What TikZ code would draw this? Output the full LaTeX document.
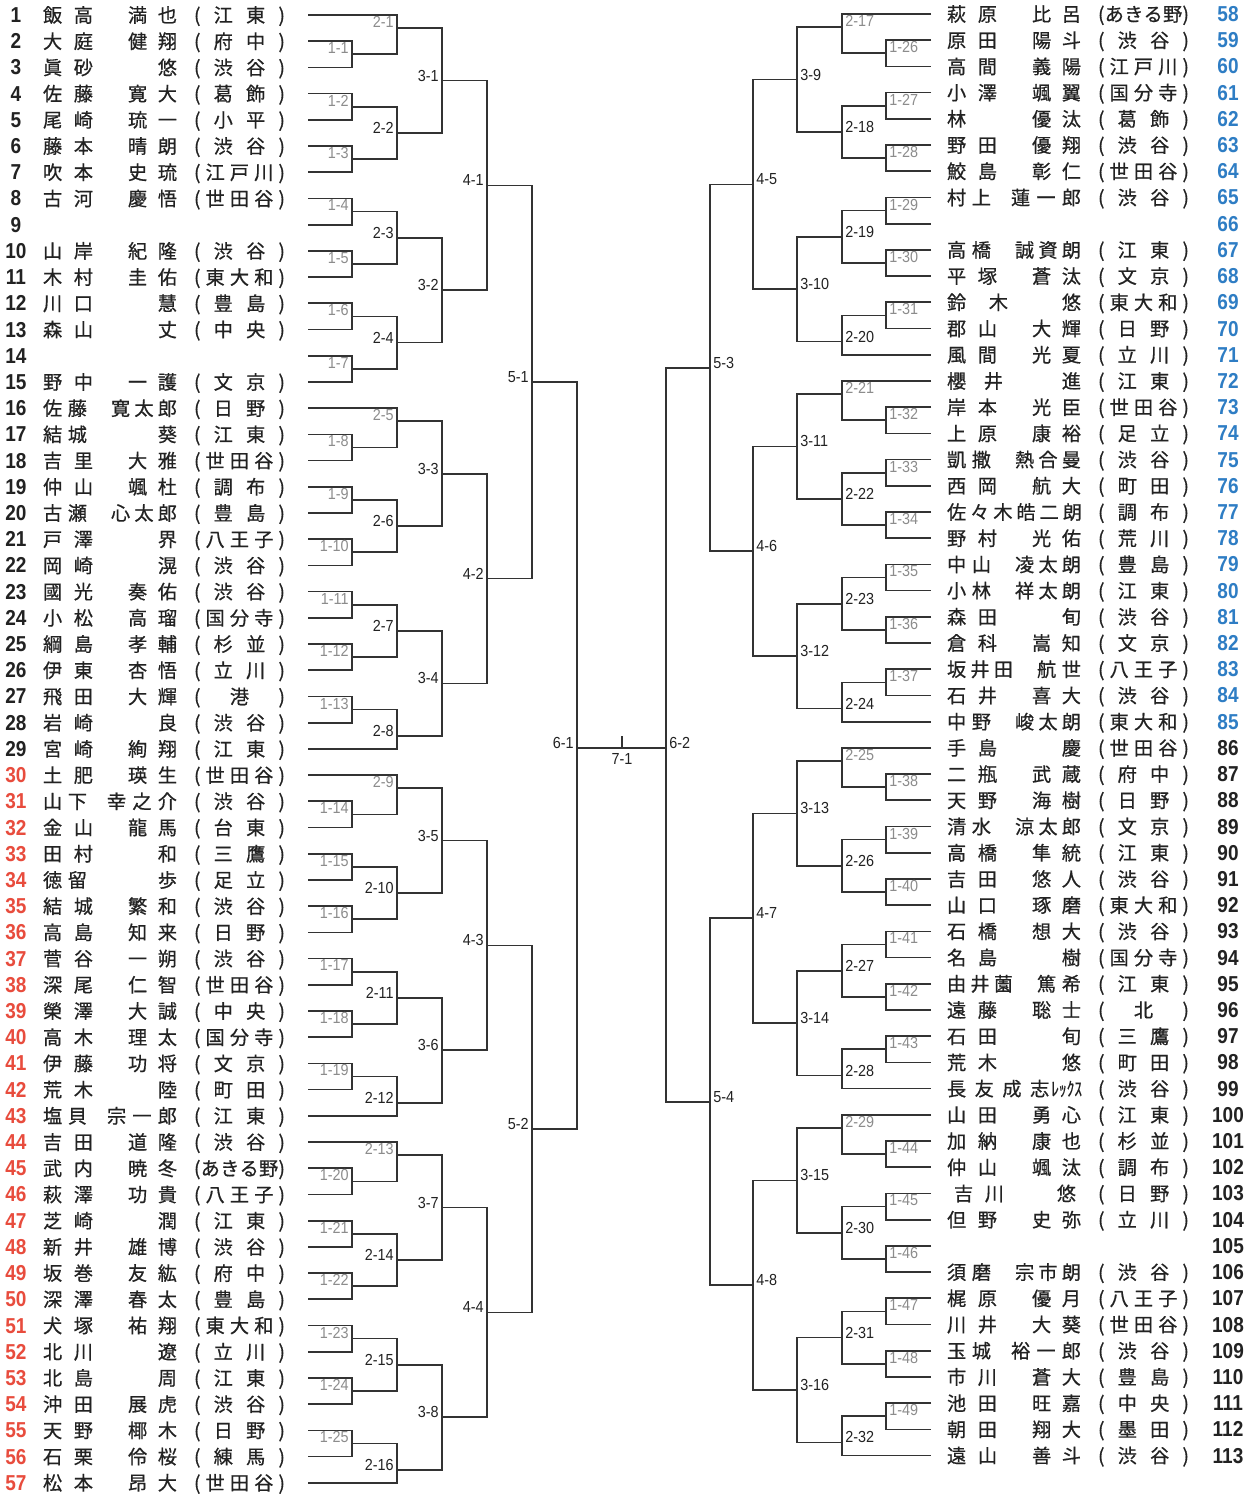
\documentclass[tikz,border=0pt]{standalone}
\usepackage{graphicx}
\usepackage{fontspec}
\setmainfont{Noto Sans CJK JP}[FakeBold=0.6]
\newfontfamily\numfont{Liberation Sans}[FakeStretch=0.88]
\newfontfamily\labfont{Liberation Sans}[FakeStretch=0.9]
\usetikzlibrary{calc}
\definecolor{numred}{HTML}{E84C3D}
\definecolor{numblue}{HTML}{2E7DC4}
\definecolor{ink}{HTML}{222222}
\definecolor{lineC}{HTML}{333333}
\definecolor{labgray}{HTML}{8C8C8C}
\newcommand\yL[1]{15+(#1-1)*26.21}
\newcommand\yK[1]{14+(#1-1)*26.21}
\newcommand\yR[1]{14+(#1-58)*26.21}
\tikzset{
 br/.style={draw=lineC,line width=0.85pt},
 nm/.style={inner sep=0pt,outer sep=0pt,text=ink,font=\fontsize{9.6pt}{10pt}\selectfont},
 numst/.style={inner sep=0pt,anchor=base,font=\numfont\bfseries\fontsize{10.8pt}{11pt}\selectfont},
 glab/.style={inner sep=0pt,text=labgray,font=\labfont\fontsize{8pt}{8pt}\selectfont},
 blab/.style={inner sep=0pt,text=ink,font=\labfont\fontsize{8pt}{8pt}\selectfont},
}
% entries
\newcommand\surL[3]{\node[nm,anchor=base west] (s#1) at (43,{\yL{#1}+7.3}) {\makebox[#2pt][s]{#3}};}
\newcommand\givL[3]{\node[nm,anchor=base east] (g#1) at (177,{\yL{#1}+7.3}) {\makebox[#2pt][s]{#3}};}
\newcommand\areL[2]{\node[nm,anchor=base west] (a#1) at (194,{\yL{#1}+7.3}) {\makebox[45.5pt][s]{(\hfill #2\hfill)}};}
\newcommand\entL[6]{\surL{#1}{#2}{#3}\givL{#1}{#4}{#5}\areL{#1}{#6}}
\newcommand\surR[3]{\node[nm,anchor=base west] (s#1) at (947,{\yR{#1}+7.3}) {\makebox[#2pt][s]{#3}};}
\newcommand\givR[3]{\node[nm,anchor=base east] (g#1) at (1081,{\yR{#1}+7.3}) {\makebox[#2pt][s]{#3}};}
\newcommand\areR[2]{\node[nm,anchor=base west] (a#1) at (1098,{\yR{#1}+7.3}) {\makebox[45.5pt][s]{(\hfill #2\hfill)}};}
\newcommand\entR[6]{\surR{#1}{#2}{#3}\givR{#1}{#4}{#5}\areR{#1}{#6}}
% matches
\newcommand\mLg[5]{\coordinate (m#1) at (#2,{\yL{#3}});\draw[br] (#4) -| (m#1) |- (#5);\node[glab,anchor=north east] (t#1) at ($(#4 -| m#1)+(-3,1)$) {#1};}
\newcommand\mLb[5]{\coordinate (m#1) at (#2,{\yL{#3}});\draw[br] (#4) -| (m#1) |- (#5);\node[blab,anchor=east] (t#1) at ($(m#1)+(-3,-5)$) {#1};}
\newcommand\mRg[5]{\coordinate (m#1) at (#2,{\yK{#3}});\draw[br] (#4) -| (m#1) |- (#5);\node[glab,anchor=north west] (t#1) at ($(#4 -| m#1)+(3,1)$) {#1};}
\newcommand\mRb[5]{\coordinate (m#1) at (#2,{\yK{#3}});\draw[br] (#4) -| (m#1) |- (#5);\node[blab,anchor=west] (t#1) at ($(m#1)+(3,-5)$) {#1};}
\begin{document}
\begin{tikzpicture}[x=0.5pt,y=-0.5pt]
\fill[white] (0,0) rectangle (1255,1497);
\useasboundingbox (0,0) rectangle (1255,1497);
% numbers
\foreach \r in {1,...,29} {\node[numst,text=ink] (n\r) at (16,{\yL{\r}+7.5}) {\r};}
\foreach \r in {30,...,57} {\node[numst,text=numred] (n\r) at (16,{\yL{\r}+7.5}) {\r};}
\foreach \r in {58,...,85} {\node[numst,text=numblue] (n\r) at (1228,{\yR{\r}+7.5}) {\r};}
\foreach \r in {86,...,113} {\node[numst,text=ink] (n\r) at (1228,{\yR{\r}+7.5}) {\r};}
% left entries
\entL{1}{25}{飯\hfill 高}{24.5}{満\hfill 也}{江\hfill 東}
\entL{2}{25}{大\hfill 庭}{24.5}{健\hfill 翔}{府\hfill 中}
\entL{3}{25}{眞\hfill 砂}{9.6}{悠}{渋\hfill 谷}
\entL{4}{25}{佐\hfill 藤}{24.5}{寛\hfill 大}{葛\hfill 飾}
\entL{5}{25}{尾\hfill 崎}{24.5}{琉\hfill 一}{小\hfill 平}
\entL{6}{25}{藤\hfill 本}{24.5}{晴\hfill 朗}{渋\hfill 谷}
\entL{7}{25}{吹\hfill 本}{24.5}{史\hfill 琉}{江\hfill 戸\hfill 川}
\entL{8}{25}{古\hfill 河}{24.5}{慶\hfill 悟}{世\hfill 田\hfill 谷}
\entL{10}{25}{山\hfill 岸}{24.5}{紀\hfill 隆}{渋\hfill 谷}
\entL{11}{25}{木\hfill 村}{24.5}{圭\hfill 佑}{東\hfill 大\hfill 和}
\entL{12}{25}{川\hfill 口}{9.6}{慧}{豊\hfill 島}
\entL{13}{25}{森\hfill 山}{9.6}{丈}{中\hfill 央}
\entL{15}{25}{野\hfill 中}{24.5}{一\hfill 護}{文\hfill 京}
\entL{16}{22}{佐\hfill 藤}{33}{寛\hfill 太\hfill 郎}{日\hfill 野}
\entL{17}{22}{結\hfill 城}{9.6}{葵}{江\hfill 東}
\entL{18}{25}{吉\hfill 里}{24.5}{大\hfill 雅}{世\hfill 田\hfill 谷}
\entL{19}{25}{仲\hfill 山}{24.5}{颯\hfill 杜}{調\hfill 布}
\entL{20}{22}{古\hfill 瀬}{33}{心\hfill 太\hfill 郎}{豊\hfill 島}
\entL{21}{25}{戸\hfill 澤}{9.6}{界}{八\hfill 王\hfill 子}
\entL{22}{25}{岡\hfill 崎}{9.6}{滉}{渋\hfill 谷}
\entL{23}{25}{國\hfill 光}{24.5}{奏\hfill 佑}{渋\hfill 谷}
\entL{24}{25}{小\hfill 松}{24.5}{高\hfill 瑠}{国\hfill 分\hfill 寺}
\entL{25}{25}{綱\hfill 島}{24.5}{孝\hfill 輔}{杉\hfill 並}
\entL{26}{25}{伊\hfill 東}{24.5}{杏\hfill 悟}{立\hfill 川}
\entL{27}{25}{飛\hfill 田}{24.5}{大\hfill 輝}{港}
\entL{28}{25}{岩\hfill 崎}{9.6}{良}{渋\hfill 谷}
\entL{29}{25}{宮\hfill 崎}{24.5}{絢\hfill 翔}{江\hfill 東}
\entL{30}{25}{土\hfill 肥}{24.5}{瑛\hfill 生}{世\hfill 田\hfill 谷}
\entL{31}{22}{山\hfill 下}{35}{幸\hfill 之\hfill 介}{渋\hfill 谷}
\entL{32}{25}{金\hfill 山}{24.5}{龍\hfill 馬}{台\hfill 東}
\entL{33}{25}{田\hfill 村}{9.6}{和}{三\hfill 鷹}
\entL{34}{22}{徳\hfill 留}{9.6}{歩}{足\hfill 立}
\entL{35}{25}{結\hfill 城}{24.5}{繁\hfill 和}{渋\hfill 谷}
\entL{36}{25}{高\hfill 島}{24.5}{知\hfill 来}{日\hfill 野}
\entL{37}{25}{菅\hfill 谷}{24.5}{一\hfill 朔}{渋\hfill 谷}
\entL{38}{25}{深\hfill 尾}{24.5}{仁\hfill 智}{世\hfill 田\hfill 谷}
\entL{39}{25}{榮\hfill 澤}{24.5}{大\hfill 誠}{中\hfill 央}
\entL{40}{25}{高\hfill 木}{24.5}{理\hfill 太}{国\hfill 分\hfill 寺}
\entL{41}{25}{伊\hfill 藤}{24.5}{功\hfill 将}{文\hfill 京}
\entL{42}{25}{荒\hfill 木}{9.6}{陸}{町\hfill 田}
\entL{43}{22}{塩\hfill 貝}{35}{宗\hfill 一\hfill 郎}{江\hfill 東}
\entL{44}{25}{吉\hfill 田}{24.5}{道\hfill 隆}{渋\hfill 谷}
\entL{45}{25}{武\hfill 内}{24.5}{暁\hfill 冬}{あ\hfill き\hfill る\hfill 野}
\entL{46}{25}{萩\hfill 澤}{24.5}{功\hfill 貴}{八\hfill 王\hfill 子}
\entL{47}{25}{芝\hfill 崎}{9.6}{潤}{江\hfill 東}
\entL{48}{25}{新\hfill 井}{24.5}{雄\hfill 博}{渋\hfill 谷}
\entL{49}{25}{坂\hfill 巻}{24.5}{友\hfill 紘}{府\hfill 中}
\entL{50}{25}{深\hfill 澤}{24.5}{春\hfill 太}{豊\hfill 島}
\entL{51}{25}{犬\hfill 塚}{24.5}{祐\hfill 翔}{東\hfill 大\hfill 和}
\entL{52}{25}{北\hfill 川}{9.6}{遼}{立\hfill 川}
\entL{53}{25}{北\hfill 島}{9.6}{周}{江\hfill 東}
\entL{54}{25}{沖\hfill 田}{24.5}{展\hfill 虎}{渋\hfill 谷}
\entL{55}{25}{天\hfill 野}{24.5}{椰\hfill 木}{日\hfill 野}
\entL{56}{25}{石\hfill 栗}{24.5}{伶\hfill 桜}{練\hfill 馬}
\entL{57}{25}{松\hfill 本}{24.5}{昂\hfill 大}{世\hfill 田\hfill 谷}
% right entries
\entR{58}{25}{萩\hfill 原}{24.5}{比\hfill 呂}{あ\hfill き\hfill る\hfill 野}
\entR{59}{25}{原\hfill 田}{24.5}{陽\hfill 斗}{渋\hfill 谷}
\entR{60}{25}{高\hfill 間}{24.5}{義\hfill 陽}{江\hfill 戸\hfill 川}
\entR{61}{25}{小\hfill 澤}{24.5}{颯\hfill 翼}{国\hfill 分\hfill 寺}
\entR{62}{9.6}{林}{24.5}{優\hfill 汰}{葛\hfill 飾}
\entR{63}{25}{野\hfill 田}{24.5}{優\hfill 翔}{渋\hfill 谷}
\entR{64}{25}{鮫\hfill 島}{24.5}{彰\hfill 仁}{世\hfill 田\hfill 谷}
\entR{65}{22}{村\hfill 上}{35}{蓮\hfill 一\hfill 郎}{渋\hfill 谷}
\entR{67}{22}{高\hfill 橋}{33}{誠\hfill 資\hfill 朗}{江\hfill 東}
\entR{68}{25}{平\hfill 塚}{24.5}{蒼\hfill 汰}{文\hfill 京}
\entR{69}{30.5}{鈴\hfill 木}{9.6}{悠}{東\hfill 大\hfill 和}
\entR{70}{25}{郡\hfill 山}{24.5}{大\hfill 輝}{日\hfill 野}
\entR{71}{25}{風\hfill 間}{24.5}{光\hfill 夏}{立\hfill 川}
\entR{72}{28}{櫻\hfill 井}{9.6}{進}{江\hfill 東}
\entR{73}{25}{岸\hfill 本}{24.5}{光\hfill 臣}{世\hfill 田\hfill 谷}
\entR{74}{25}{上\hfill 原}{24.5}{康\hfill 裕}{足\hfill 立}
\entR{75}{22}{凱\hfill 撒}{33}{熱\hfill 合\hfill 曼}{渋\hfill 谷}
\entR{76}{25}{西\hfill 岡}{24.5}{航\hfill 大}{町\hfill 田}
\surR{77}{67.5}{佐\hfill 々\hfill 木\hfill 皓\hfill 二\hfill 朗}\areR{77}{調\hfill 布}
\entR{78}{25}{野\hfill 村}{24.5}{光\hfill 佑}{荒\hfill 川}
\entR{79}{22}{中\hfill 山}{33}{凌\hfill 太\hfill 朗}{豊\hfill 島}
\entR{80}{22}{小\hfill 林}{33}{祥\hfill 太\hfill 朗}{江\hfill 東}
\entR{81}{25}{森\hfill 田}{9.6}{旬}{渋\hfill 谷}
\entR{82}{25}{倉\hfill 科}{24.5}{嵩\hfill 知}{文\hfill 京}
\entR{83}{33}{坂\hfill 井\hfill 田}{22}{航\hfill 世}{八\hfill 王\hfill 子}
\entR{84}{25}{石\hfill 井}{24.5}{喜\hfill 大}{渋\hfill 谷}
\entR{85}{22}{中\hfill 野}{33}{峻\hfill 太\hfill 朗}{東\hfill 大\hfill 和}
\entR{86}{25}{手\hfill 島}{9.6}{慶}{世\hfill 田\hfill 谷}
\entR{87}{25}{二\hfill 瓶}{24.5}{武\hfill 蔵}{府\hfill 中}
\entR{88}{25}{天\hfill 野}{24.5}{海\hfill 樹}{日\hfill 野}
\entR{89}{22}{清\hfill 水}{33}{涼\hfill 太\hfill 郎}{文\hfill 京}
\entR{90}{25}{高\hfill 橋}{24.5}{隼\hfill 統}{江\hfill 東}
\entR{91}{25}{吉\hfill 田}{24.5}{悠\hfill 人}{渋\hfill 谷}
\entR{92}{25}{山\hfill 口}{24.5}{琢\hfill 磨}{東\hfill 大\hfill 和}
\entR{93}{25}{石\hfill 橋}{24.5}{想\hfill 大}{渋\hfill 谷}
\entR{94}{25}{名\hfill 島}{9.6}{樹}{国\hfill 分\hfill 寺}
\entR{95}{33}{由\hfill 井\hfill 薗}{22}{篤\hfill 希}{江\hfill 東}
\entR{96}{25}{遠\hfill 藤}{24.5}{聡\hfill 士}{北}
\entR{97}{25}{石\hfill 田}{9.6}{旬}{三\hfill 鷹}
\entR{98}{25}{荒\hfill 木}{9.6}{悠}{町\hfill 田}
\surR{99}{67.5}{長\hfill 友\hfill 成\hfill 志\hspace{1pt}\scalebox{0.8}[1]{ﾚｯｸｽ}}\areR{99}{渋\hfill 谷}
\entR{100}{25}{山\hfill 田}{24.5}{勇\hfill 心}{江\hfill 東}
\entR{101}{25}{加\hfill 納}{24.5}{康\hfill 也}{杉\hfill 並}
\entR{102}{25}{仲\hfill 山}{24.5}{颯\hfill 汰}{調\hfill 布}
\node[nm,anchor=base west] (s103) at (954,{\yR{103}+7.3}) {\makebox[25pt][s]{吉\hfill 川}};
\node[nm,anchor=base east] (g103) at (1076,{\yR{103}+7.3}) {悠};
\areR{103}{日\hfill 野}
\entR{104}{25}{但\hfill 野}{24.5}{史\hfill 弥}{立\hfill 川}
\entR{106}{22}{須\hfill 磨}{33}{宗\hfill 市\hfill 朗}{渋\hfill 谷}
\entR{107}{25}{梶\hfill 原}{24.5}{優\hfill 月}{八\hfill 王\hfill 子}
\entR{108}{25}{川\hfill 井}{24.5}{大\hfill 葵}{世\hfill 田\hfill 谷}
\entR{109}{22}{玉\hfill 城}{35}{裕\hfill 一\hfill 郎}{渋\hfill 谷}
\entR{110}{25}{市\hfill 川}{24.5}{蒼\hfill 大}{豊\hfill 島}
\entR{111}{25}{池\hfill 田}{24.5}{旺\hfill 嘉}{中\hfill 央}
\entR{112}{25}{朝\hfill 田}{24.5}{翔\hfill 大}{墨\hfill 田}
\entR{113}{25}{遠\hfill 山}{24.5}{善\hfill 斗}{渋\hfill 谷}
% leaves
\foreach \r in {1,...,57} {\coordinate (l\r) at (308,{\yL{\r}});}
\foreach \k in {1,...,56} {\coordinate (r\k) at (931,{\yK{\k}});}
% left round 1
\mLg{1-1}{352}{2.5}{l2}{l3}
\mLg{1-2}{352}{4.5}{l4}{l5}
\mLg{1-3}{352}{6.5}{l6}{l7}
\mLg{1-4}{352}{8.5}{l8}{l9}
\mLg{1-5}{352}{10.5}{l10}{l11}
\mLg{1-6}{352}{12.5}{l12}{l13}
\mLg{1-7}{352}{14.5}{l14}{l15}
\mLg{1-8}{352}{17.5}{l17}{l18}
\mLg{1-9}{352}{19.5}{l19}{l20}
\mLg{1-10}{352}{21.5}{l21}{l22}
\mLg{1-11}{352}{23.5}{l23}{l24}
\mLg{1-12}{352}{25.5}{l25}{l26}
\mLg{1-13}{352}{27.5}{l27}{l28}
\mLg{1-14}{352}{31.5}{l31}{l32}
\mLg{1-15}{352}{33.5}{l33}{l34}
\mLg{1-16}{352}{35.5}{l35}{l36}
\mLg{1-17}{352}{37.5}{l37}{l38}
\mLg{1-18}{352}{39.5}{l39}{l40}
\mLg{1-19}{352}{41.5}{l41}{l42}
\mLg{1-20}{352}{45.5}{l45}{l46}
\mLg{1-21}{352}{47.5}{l47}{l48}
\mLg{1-22}{352}{49.5}{l49}{l50}
\mLg{1-23}{352}{51.5}{l51}{l52}
\mLg{1-24}{352}{53.5}{l53}{l54}
\mLg{1-25}{352}{55.5}{l55}{l56}
% left round 2
\mLg{2-1}{397}{1.5}{l1}{m1-1}
\mLb{2-2}{397}{5.5}{m1-2}{m1-3}
\mLb{2-3}{397}{9.5}{m1-4}{m1-5}
\mLb{2-4}{397}{13.5}{m1-6}{m1-7}
\mLg{2-5}{397}{16.5}{l16}{m1-8}
\mLb{2-6}{397}{20.5}{m1-9}{m1-10}
\mLb{2-7}{397}{24.5}{m1-11}{m1-12}
\mLb{2-8}{397}{28.5}{m1-13}{l29}
\mLg{2-9}{397}{30.5}{l30}{m1-14}
\mLb{2-10}{397}{34.5}{m1-15}{m1-16}
\mLb{2-11}{397}{38.5}{m1-17}{m1-18}
\mLb{2-12}{397}{42.5}{m1-19}{l43}
\mLg{2-13}{397}{44.5}{l44}{m1-20}
\mLb{2-14}{397}{48.5}{m1-21}{m1-22}
\mLb{2-15}{397}{52.5}{m1-23}{m1-24}
\mLb{2-16}{397}{56.5}{m1-25}{l57}
% left round 3-5
\mLb{3-1}{442}{3.5}{m2-1}{m2-2}
\mLb{3-2}{442}{11.5}{m2-3}{m2-4}
\mLb{3-3}{442}{18.5}{m2-5}{m2-6}
\mLb{3-4}{442}{26.5}{m2-7}{m2-8}
\mLb{3-5}{442}{32.5}{m2-9}{m2-10}
\mLb{3-6}{442}{40.5}{m2-11}{m2-12}
\mLb{3-7}{442}{46.5}{m2-13}{m2-14}
\mLb{3-8}{442}{54.5}{m2-15}{m2-16}
\mLb{4-1}{487}{7.5}{m3-1}{m3-2}
\mLb{4-2}{487}{22.5}{m3-3}{m3-4}
\mLb{4-3}{487}{36.5}{m3-5}{m3-6}
\mLb{4-4}{487}{50.5}{m3-7}{m3-8}
\mLb{5-1}{532}{15}{m4-1}{m4-2}
\mLb{5-2}{532}{43.5}{m4-3}{m4-4}
% right round 1
\mRg{1-26}{886}{2.5}{r2}{r3}
\mRg{1-27}{886}{4.5}{r4}{r5}
\mRg{1-28}{886}{6.5}{r6}{r7}
\mRg{1-29}{886}{8.5}{r8}{r9}
\mRg{1-30}{886}{10.5}{r10}{r11}
\mRg{1-31}{886}{12.5}{r12}{r13}
\mRg{1-32}{886}{16.5}{r16}{r17}
\mRg{1-33}{886}{18.5}{r18}{r19}
\mRg{1-34}{886}{20.5}{r20}{r21}
\mRg{1-35}{886}{22.5}{r22}{r23}
\mRg{1-36}{886}{24.5}{r24}{r25}
\mRg{1-37}{886}{26.5}{r26}{r27}
\mRg{1-38}{886}{30.5}{r30}{r31}
\mRg{1-39}{886}{32.5}{r32}{r33}
\mRg{1-40}{886}{34.5}{r34}{r35}
\mRg{1-41}{886}{36.5}{r36}{r37}
\mRg{1-42}{886}{38.5}{r38}{r39}
\mRg{1-43}{886}{40.5}{r40}{r41}
\mRg{1-44}{886}{44.5}{r44}{r45}
\mRg{1-45}{886}{46.5}{r46}{r47}
\mRg{1-46}{886}{48.5}{r48}{r49}
\mRg{1-47}{886}{50.5}{r50}{r51}
\mRg{1-48}{886}{52.5}{r52}{r53}
\mRg{1-49}{886}{54.5}{r54}{r55}
% right round 2
\mRg{2-17}{842}{1.5}{r1}{m1-26}
\mRb{2-18}{842}{5.5}{m1-27}{m1-28}
\mRb{2-19}{842}{9.5}{m1-29}{m1-30}
\mRb{2-20}{842}{13.5}{m1-31}{r14}
\mRg{2-21}{842}{15.5}{r15}{m1-32}
\mRb{2-22}{842}{19.5}{m1-33}{m1-34}
\mRb{2-23}{842}{23.5}{m1-35}{m1-36}
\mRb{2-24}{842}{27.5}{m1-37}{r28}
\mRg{2-25}{842}{29.5}{r29}{m1-38}
\mRb{2-26}{842}{33.5}{m1-39}{m1-40}
\mRb{2-27}{842}{37.5}{m1-41}{m1-42}
\mRb{2-28}{842}{41.5}{m1-43}{r42}
\mRg{2-29}{842}{43.5}{r43}{m1-44}
\mRb{2-30}{842}{47.5}{m1-45}{m1-46}
\mRb{2-31}{842}{51.5}{m1-47}{m1-48}
\mRb{2-32}{842}{55.5}{m1-49}{r56}
% right rounds 3-5
\mRb{3-9}{797}{3.5}{m2-17}{m2-18}
\mRb{3-10}{797}{11.5}{m2-19}{m2-20}
\mRb{3-11}{797}{17.5}{m2-21}{m2-22}
\mRb{3-12}{797}{25.5}{m2-23}{m2-24}
\mRb{3-13}{797}{31.5}{m2-25}{m2-26}
\mRb{3-14}{797}{39.5}{m2-27}{m2-28}
\mRb{3-15}{797}{45.5}{m2-29}{m2-30}
\mRb{3-16}{797}{53.5}{m2-31}{m2-32}
\mRb{4-5}{753}{7.5}{m3-9}{m3-10}
\mRb{4-6}{753}{21.5}{m3-11}{m3-12}
\mRb{4-7}{753}{35.5}{m3-13}{m3-14}
\mRb{4-8}{753}{49.5}{m3-15}{m3-16}
\mRb{5-3}{710}{14.5}{m4-5}{m4-6}
\mRb{5-4}{710}{42.5}{m4-7}{m4-8}
% final
\coordinate (m6-1) at (577,748);
\draw[br] (m5-1) -| (m6-1) |- (m5-2);
\coordinate (m6-2) at (666,748);
\draw[br] (m5-3) -| (m6-2) |- (m5-4);
\draw[br] (m6-1) -- (m6-2);
\coordinate (m7-1) at (622,748);
\draw[br] (m7-1) -- ++(0,-12);
\node[blab,anchor=east] (t6-1) at ($(m6-1)+(-3,-5)$) {6-1};
\node[blab,anchor=west] (t6-2) at ($(m6-2)+(3,-5)$) {6-2};
\node[blab,anchor=north] (t7-1) at ($(m7-1)+(0,5)$) {7-1};
\end{tikzpicture}
\end{document}
